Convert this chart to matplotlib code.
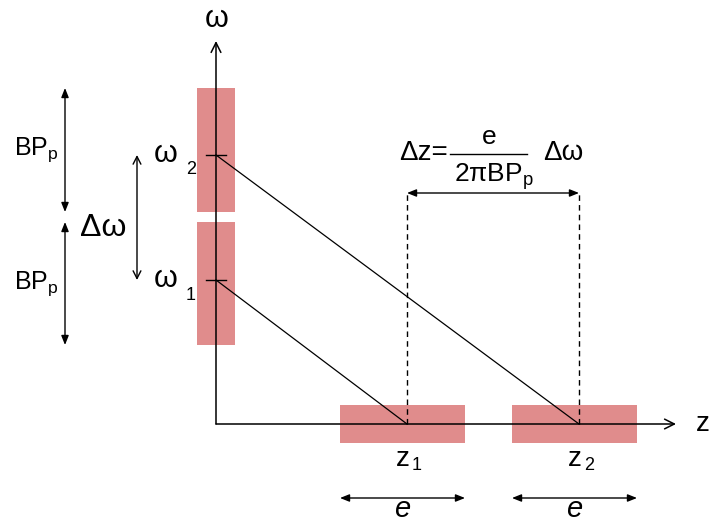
import matplotlib
matplotlib.use("Agg")
import matplotlib.pyplot as plt
from matplotlib.patches import Rectangle

# ── Diagram values (origin of the ω/z axes at 0,0; units ≈ pixels) ───────────
omega_vals   = [144, 269]            # ω1, ω2 on the vertical axis
omega_bands  = [(79, 202), (212, 336)]   # passbands BP_p around ω1, ω2
z_vals       = [191, 363]            # z1, z2 on the horizontal axis
z_bands      = [(124, 249), (296, 421)]  # slices of width e around z1, z2
omega_labels = ["1", "2"]
z_labels     = ["1", "2"]

PINK = "#E08C8C"
plt.rcParams["font.family"] = ["Liberation Sans", "DejaVu Sans"]
plt.rcParams["mathtext.fontset"] = "custom"
plt.rcParams["mathtext.rm"] = "Liberation Sans"
plt.rcParams["mathtext.it"] = "Liberation Sans:italic"

fig = plt.figure(figsize=(7.09, 5.24), dpi=100)
ax = fig.add_axes([0, 0, 1, 1])
ax.set_xlim(-216, 709 - 216)
ax.set_ylim(-100, 424)
ax.axis("off")

# ── Bands ─────────────────────────────────────────────────────────────────────
for lo, hi in omega_bands:
    ax.add_patch(Rectangle((-19, lo), 38, hi - lo, color=PINK, lw=0, zorder=1))
for lo, hi in z_bands:
    ax.add_patch(Rectangle((lo, -19), hi - lo, 38, color=PINK, lw=0, zorder=1))

# ── Axes ──────────────────────────────────────────────────────────────────────
ax.annotate("", xy=(0, 383), xytext=(0, 0),
            arrowprops=dict(arrowstyle="->,head_length=0.7,head_width=0.35", lw=1.1, color="black",
                            shrinkA=0, shrinkB=0), zorder=3)
ax.annotate("", xy=(460, 0), xytext=(0, 0),
            arrowprops=dict(arrowstyle="->,head_length=0.7,head_width=0.35", lw=1.1, color="black",
                            shrinkA=0, shrinkB=0), zorder=3)
ax.text(1, 405, "ω", fontsize=22, ha="center", va="center")
ax.text(487, 0, "z", fontsize=20, ha="center", va="center")

# ── ω ticks, labels and slanted lines ─────────────────────────────────────────
for w, zz, lab in zip(omega_vals, z_vals, omega_labels):
    ax.plot([-10, 10], [w, w], color="black", lw=1, zorder=3)
    ax.plot([0, zz], [w, 0], color="black", lw=0.9, zorder=3)
    ax.text(-50, w + 1, "ω", fontsize=22, ha="center", va="center")
    ax.text(-25, w - 15, lab, fontsize=13, ha="center", va="center")

# ── z labels, dashed verticals and e arrows ──────────────────────────────────
for zz, (lo, hi), lab in zip(z_vals, z_bands, z_labels):
    ax.text(zz - 4, -35, "z", fontsize=20, ha="center", va="center")
    ax.text(zz + 10, -41, lab, fontsize=13, ha="center", va="center")
    ax.annotate("", xy=(lo, -74), xytext=(hi, -74),
                arrowprops=dict(arrowstyle="<|-|>,head_length=0.55,head_width=0.22", lw=1, color="black",
                                shrinkA=0, shrinkB=0))
    ax.text((lo + hi) / 2, -85, "e", fontsize=21, style="italic", ha="center", va="center")

top = 231
for zz in z_vals:
    ax.plot([zz, zz], [0, top], color="black", lw=1, ls=(0, (4, 3)), zorder=3)
ax.annotate("", xy=(z_vals[0], top), xytext=(z_vals[1], top),
            arrowprops=dict(arrowstyle="<|-|>,head_length=0.55,head_width=0.22", lw=1, color="black",
                            shrinkA=0, shrinkB=0))

# ── Formula Δz = e / (2πBP_p) Δω ─────────────────────────────────────────────
ax.text(207, 271, "Δz=", fontsize=20, ha="center", va="center")
ax.plot([234, 311], [270, 270], color="black", lw=1)
ax.text(273, 287, "e", fontsize=19, ha="center", va="center")
ax.text(278, 247, "$\\mathregular{2\\pi BP_p}$", fontsize=19, ha="center", va="center")
ax.text(347, 271, "Δω", fontsize=20, ha="center", va="center")

# ── BP_p arrows and Δω arrow on the left ─────────────────────────────────────
for lo, hi in omega_bands:
    ax.annotate("", xy=(-151, lo), xytext=(-151, hi),
                arrowprops=dict(arrowstyle="<|-|>,head_length=0.55,head_width=0.22", lw=1, color="black",
                                shrinkA=0, shrinkB=0))
    ax.text(-180, (lo + hi) / 2, "$\\mathregular{BP_p}$", fontsize=18, ha="center", va="center")

ax.annotate("", xy=(-79, omega_vals[0]), xytext=(-79, omega_vals[1]),
            arrowprops=dict(arrowstyle="<->,head_length=0.55,head_width=0.28", lw=1, color="black",
                            shrinkA=0, shrinkB=0))
ax.text(-113, 196, "Δω", fontsize=23, ha="center", va="center")

fig.savefig("out.png", dpi=100)
